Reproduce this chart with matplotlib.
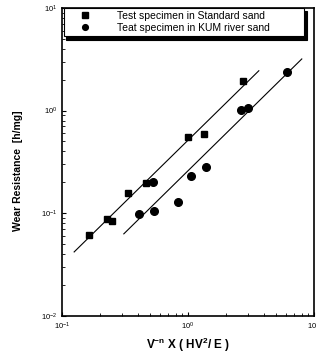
import numpy as np
import matplotlib.pyplot as plt

plt.rcParams['font.family'] = ['Liberation Sans', 'DejaVu Sans']
plt.rcParams['mathtext.fontset'] = 'custom'
plt.rcParams['mathtext.rm'] = 'Liberation Sans:bold'
plt.rcParams['mathtext.it'] = 'Liberation Sans:bold'
plt.rcParams['mathtext.bf'] = 'Liberation Sans:bold'

## data
std_x = [0.164, 0.227, 0.249, 0.334, 0.464, 1.0, 1.34, 2.73]
std_y = [0.0616, 0.088, 0.0843, 0.158, 0.198, 0.555, 0.593, 1.94]
kum_x = [0.408, 0.527, 0.537, 0.834, 1.06, 1.39, 2.63, 2.99, 6.1]
kum_y = [0.0986, 0.202, 0.105, 0.129, 0.231, 0.283, 1.02, 1.06, 2.38]

## fitted lines (end points)
std_fit_x = [0.125, 3.66]
std_fit_y = [0.042, 2.44]
kum_fit_x = [0.31, 8.03]
kum_fit_y = [0.063, 3.18]

labels = ['Test specimen in Standard sand', 'Teat specimen in KUM river sand']

fig = plt.figure(figsize=(3.16, 3.57), dpi=100)
ax = fig.add_axes([0.196, 0.115, 0.797, 0.863])

ax.plot(std_fit_x, std_fit_y, color='k', lw=0.8)
ax.plot(kum_fit_x, kum_fit_y, color='k', lw=0.8)
ax.plot(std_x, std_y, 's', color='k', ms=5, label=labels[0])
ax.plot(kum_x, kum_y, 'o', color='k', ms=5.5, label=labels[1])

ax.set_xscale('log')
ax.set_yscale('log')
ax.set_xlim(0.1, 10)
ax.set_ylim(0.01, 10)

ax.tick_params(which='both', direction='in', top=False, right=False, labelsize=5.5)
ax.tick_params(which='major', length=3)
ax.tick_params(which='minor', length=2)
for s in ax.spines.values():
    s.set_linewidth(1.2)

ax.set_ylabel('Wear Resistance  [h/mg]', fontsize=7.5, fontweight='bold')
ax.yaxis.set_label_coords(-0.155, 0.47)
ax.set_xlabel(r'V$^{-n}$ X ( HV$^{2}$/ E )', fontsize=8.5, fontweight='bold', labelpad=3)

leg = ax.legend(loc='upper left', bbox_to_anchor=(0.008, 0.896, 0.955, 0.104), mode='expand',
                fontsize=7.5, frameon=True, fancybox=False, edgecolor='k',
                shadow={'color': 'k', 'alpha': 1, 'ox': 1.5, 'oy': -2.5}, borderaxespad=0,
                handletextpad=1.3, labelspacing=0.2, handlelength=3.5, markerscale=0.75,
                borderpad=0.3)
leg.get_frame().set_linewidth(0.8)

fig.savefig('out.png', dpi=100)
